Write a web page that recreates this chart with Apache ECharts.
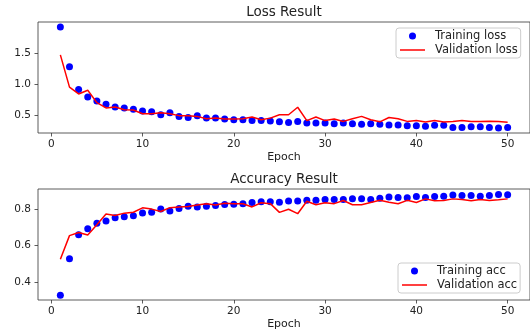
<!DOCTYPE html>
<html>
<head>
<meta charset="utf-8">
<script src="https://cdn.jsdelivr.net/npm/echarts@6/dist/echarts.min.js"></script>
<style>
  html, body { margin: 0; padding: 0; background: #fff; }
  #box { width: 530px; height: 334px; }
</style>
</head>
<body>
<div id="box"></div>
<script>
// epochs 1..50
var epochs = [];
for (var i = 1; i <= 50; i++) epochs.push(i);

var trainLoss = [1.92, 1.28, 0.91, 0.79, 0.725, 0.675, 0.63, 0.615, 0.595, 0.565,
  0.553, 0.505, 0.535, 0.478, 0.46, 0.49, 0.45, 0.45, 0.435, 0.425,
  0.425, 0.413, 0.413, 0.403, 0.392, 0.38, 0.397, 0.37, 0.37, 0.37,
  0.36, 0.37, 0.36, 0.35, 0.36, 0.35, 0.34, 0.34, 0.327, 0.325,
  0.32, 0.333, 0.333, 0.30, 0.30, 0.31, 0.31, 0.30, 0.29, 0.30];
var valLoss = [1.47, 0.95, 0.84, 0.90, 0.70, 0.615, 0.63, 0.585, 0.58, 0.52,
  0.52, 0.535, 0.52, 0.49, 0.49, 0.478, 0.44, 0.45, 0.435, 0.435,
  0.44, 0.467, 0.424, 0.45, 0.505, 0.505, 0.625, 0.41, 0.467, 0.41,
  0.435, 0.397, 0.44, 0.478, 0.424, 0.39, 0.46, 0.44, 0.397, 0.41,
  0.387, 0.41, 0.387, 0.397, 0.41, 0.397, 0.397, 0.40, 0.397, 0.385];
var trainAcc = [0.329, 0.529, 0.66, 0.692, 0.723, 0.735, 0.753, 0.758, 0.764, 0.779,
  0.783, 0.80, 0.79, 0.804, 0.815, 0.811, 0.815, 0.82, 0.825, 0.827,
  0.829, 0.836, 0.84, 0.84, 0.838, 0.844, 0.844, 0.849, 0.849, 0.853,
  0.853, 0.853, 0.856, 0.856, 0.853, 0.86, 0.866, 0.864, 0.862, 0.869,
  0.864, 0.869, 0.871, 0.877, 0.875, 0.875, 0.871, 0.875, 0.88, 0.878];
var valAcc = [0.526, 0.655, 0.672, 0.659, 0.714, 0.773, 0.765, 0.778, 0.783, 0.807,
  0.80, 0.787, 0.808, 0.812, 0.814, 0.822, 0.829, 0.822, 0.832, 0.829,
  0.829, 0.812, 0.835, 0.83, 0.782, 0.799, 0.775, 0.843, 0.824, 0.835,
  0.83, 0.847, 0.824, 0.824, 0.836, 0.848, 0.837, 0.829, 0.848, 0.836,
  0.856, 0.846, 0.847, 0.856, 0.852, 0.846, 0.853, 0.847, 0.851, 0.856];

var xTicks = [0, 10, 20, 30, 40, 50];
var lossTicks = [0.5, 1.0, 1.5];
var accTicks = [0.4, 0.6, 0.8];

function pairs(ys) {
  return ys.map(function (v, i) { return [epochs[i], v]; });
}

var FONT = 'DejaVu Sans';
var TXT = '#222';
var LINE_ICON = 'path://M0,0L25,0L25,1.5L0,1.5Z';

function xAxisOf(gridIndex) {
  return {
    type: 'value', gridIndex: gridIndex, min: -1.45, max: 52.45,
    name: 'Epoch', nameLocation: 'middle', nameGap: 19,
    nameTextStyle: { fontFamily: FONT, fontSize: 11, color: TXT },
    axisLine: { show: false, onZero: false },
    splitLine: { show: false },
    axisTick: { show: true, length: 3.5, customValues: xTicks, lineStyle: { color: '#333', width: 0.8 } },
    axisLabel: { customValues: xTicks, margin: 6, fontFamily: FONT, fontSize: 10.5, color: TXT }
  };
}
function yAxisOf(gridIndex, min, max, ticks) {
  return {
    type: 'value', gridIndex: gridIndex, min: min, max: max,
    axisLine: { show: false, onZero: false },
    splitLine: { show: false },
    axisTick: { show: true, length: 3.5, customValues: ticks, lineStyle: { color: '#333', width: 0.8 } },
    axisLabel: {
      customValues: ticks, margin: 7, fontFamily: FONT, fontSize: 10.5, color: TXT,
      formatter: function (v) { return v.toFixed(1); }
    }
  };
}
function legendOf(left, top, names) {
  return {
    data: [{ name: names[0], icon: 'circle' }, { name: names[1], icon: LINE_ICON }],
    orient: 'vertical', left: left, top: top,
    padding: [2, 3, 2, 4], itemGap: 2, itemWidth: 25, itemHeight: 7,
    backgroundColor: '#fff', borderColor: '#ccc', borderWidth: 1, borderRadius: 3,
    textStyle: { fontFamily: FONT, fontSize: 11.5, color: TXT, padding: [0, 0, 0, 5] }
  };
}

var chart = echarts.init(document.getElementById('box'));

var option = {
  animation: false,
  graphic: [
    { type: 'text', x: 284, y: 12, style: { text: 'Loss Result', fontFamily: FONT, fontSize: 13.5, fill: TXT, textAlign: 'center', textVerticalAlign: 'middle' } },
    { type: 'text', x: 284, y: 179, style: { text: 'Accuracy Result', fontFamily: FONT, fontSize: 13.5, fill: TXT, textAlign: 'center', textVerticalAlign: 'middle' } }
  ],
  grid: [
    { left: 38, top: 22, width: 492, height: 111, show: true, borderColor: '#333', borderWidth: 0.8, backgroundColor: 'transparent' },
    { left: 38, top: 189, width: 492, height: 111, show: true, borderColor: '#333', borderWidth: 0.8, backgroundColor: 'transparent' }
  ],
  xAxis: [xAxisOf(0), xAxisOf(1)],
  yAxis: [yAxisOf(0, 0.21, 2.0, lossTicks), yAxisOf(1, 0.303, 0.91, accTicks)],
  legend: [
    legendOf(396, 28, ['Training loss', 'Validation loss']),
    legendOf(398, 263, ['Training acc', 'Validation acc'])
  ],
  series: [
    { name: 'Training loss', type: 'scatter', xAxisIndex: 0, yAxisIndex: 0, symbolSize: 7,
      itemStyle: { color: '#0000ff', opacity: 1 }, data: pairs(trainLoss) },
    { name: 'Validation loss', type: 'line', xAxisIndex: 0, yAxisIndex: 0, symbol: 'none',
      lineStyle: { color: '#ff0000', width: 1.5 }, itemStyle: { color: '#ff0000' }, data: pairs(valLoss) },
    { name: 'Training acc', type: 'scatter', xAxisIndex: 1, yAxisIndex: 1, symbolSize: 7,
      itemStyle: { color: '#0000ff', opacity: 1 }, data: pairs(trainAcc) },
    { name: 'Validation acc', type: 'line', xAxisIndex: 1, yAxisIndex: 1, symbol: 'none',
      lineStyle: { color: '#ff0000', width: 1.5 }, itemStyle: { color: '#ff0000' }, data: pairs(valAcc) }
  ]
};

chart.setOption(option);
</script>
</body>
</html>
